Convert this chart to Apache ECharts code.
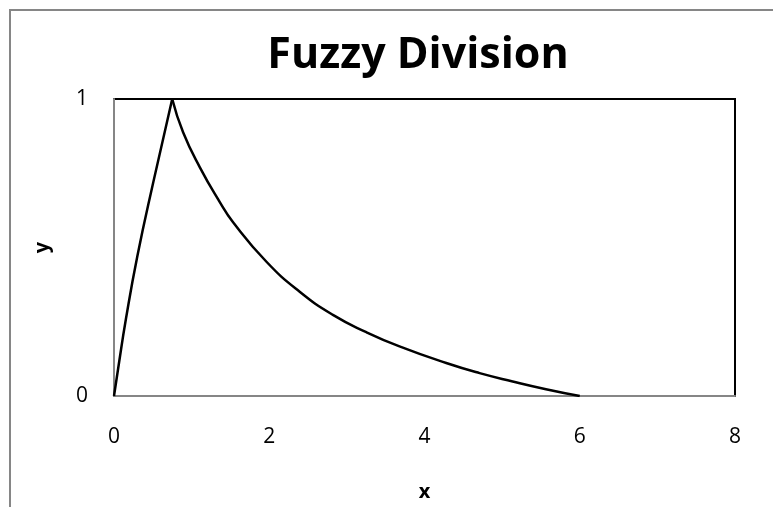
<!DOCTYPE html>
<html>
<head>
<meta charset="utf-8">
<script src="https://cdn.jsdelivr.net/npm/echarts@6/dist/echarts.min.js"></script>
<style>
	html, body { margin: 0; padding: 0; background: #fff; }
	#chart { width: 773px; height: 507px; }
</style>
</head>
<body>
<div id="chart"></div>
<script>
// values: rising part up to the peak, then the falling part
var riseX = [0, 0.055, 0.154, 0.30, 0.506, 0.75];
var riseY = [0, 0.095, 0.26, 0.47, 0.72, 1];
var fallX = [0.75, 0.89, 1.106, 1.363, 1.534, 1.964, 2.392, 2.82, 3.25, 3.678, 4.28, 4.71, 5.136, 5.565, 6.0];
var fallY = [1, 0.888, 0.77, 0.653, 0.585, 0.452, 0.351, 0.273, 0.215, 0.167, 0.111, 0.077, 0.049, 0.023, 0];
var xTicks = [0, 2, 4, 6, 8];
var yTicks = [0, 1];

var font = '"Open Sans", "Noto Sans", sans-serif';
var chart = echarts.init(document.getElementById('chart'));

var curve = (xs, ys) => ({
	type: 'line',
	data: xs.map((x, i) => [x, ys[i]]),
	showSymbol: false,
	smooth: 0.5,
	lineStyle: { color: '#000', width: 2.5 },
	z: 3
});

chart.setOption({
	animation: false,
	title: {
		text: 'Fuzzy Division',
		left: 413,
		top: 29,
		textAlign: 'center',
		textStyle: { fontFamily: font, fontWeight: 'bold', fontSize: 43, color: '#000' }
	},
	graphic: [{
		type: 'rect',
		shape: { x: 10, y: 10, width: 900, height: 700 },
		style: { fill: 'none', stroke: '#868686', lineWidth: 2 },
		z: 0
	}],
	grid: {
		left: 114, right: 38, top: 99, bottom: 109,
		show: true, borderColor: '#000', borderWidth: 2, backgroundColor: 'transparent'
	},
	xAxis: {
		type: 'value',
		min: xTicks[0], max: xTicks[xTicks.length - 1], interval: 2,
		name: 'x', nameLocation: 'middle', nameGap: 86,
		nameTextStyle: { fontFamily: font, fontWeight: 'bold', fontSize: 20, color: '#000' },
		axisLine: { lineStyle: { color: '#868686', width: 2 } },
		axisTick: { show: false },
		axisLabel: { fontFamily: font, fontSize: 21, color: '#000', margin: 31 },
		splitLine: { show: false }
	},
	yAxis: {
		type: 'value',
		min: yTicks[0], max: yTicks[yTicks.length - 1], interval: 1,
		name: 'y', nameLocation: 'middle', nameGap: 62, nameRotate: 90,
		nameTextStyle: { fontFamily: font, fontWeight: 'bold', fontSize: 20, color: '#000' },
		axisLine: { lineStyle: { color: '#868686', width: 2 } },
		axisTick: { show: false },
		axisLabel: { fontFamily: font, fontSize: 21, color: '#000', margin: 26 },
		splitLine: { show: false }
	},
	series: [curve(riseX, riseY), curve(fallX, fallY)]
});
</script>
</body>
</html>
